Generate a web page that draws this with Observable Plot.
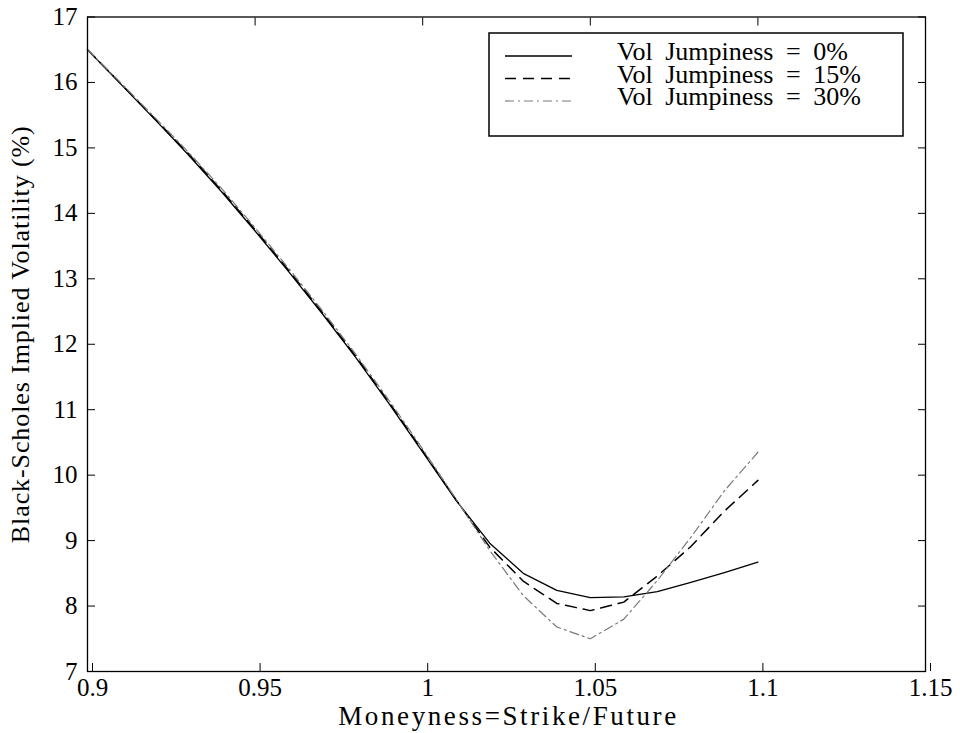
<!DOCTYPE html>
<html>
<head>
<meta charset="utf-8">
<script src="https://cdn.jsdelivr.net/npm/d3@7"></script>
<script src="https://cdn.jsdelivr.net/npm/@observablehq/plot@0.6"></script>
<style>
  body { margin: 0; background: #fff; }
  #wrap { position: relative; width: 960px; height: 733px; }
  #wrap svg text { font-family: "Liberation Serif", "Times New Roman", serif; }
  #legend { position: absolute; left: 0; top: 0; }
</style>
</head>
<body>
<div id="wrap"></div>
<script>
// ---- data ----
const moneyness = [0.90, 0.91, 0.92, 0.93, 0.94, 0.95, 0.96, 0.97, 0.98, 0.99, 1.00,
                   1.01, 1.02, 1.03, 1.04, 1.05, 1.06, 1.07, 1.08, 1.09, 1.10];
const vol0  = [16.50, 15.97, 15.44, 14.90, 14.33, 13.73, 13.11, 12.47, 11.80, 11.09, 10.35,
               9.61, 8.96, 8.50, 8.24, 8.13, 8.14, 8.22, 8.36, 8.51, 8.67];
const vol15 = [16.50, 15.98, 15.45, 14.92, 14.35, 13.75, 13.13, 12.49, 11.82, 11.11, 10.37,
               9.62, 8.90, 8.38, 8.04, 7.93, 8.06, 8.46, 8.91, 9.45, 9.92];
const vol30 = [16.50, 15.99, 15.47, 14.94, 14.38, 13.78, 13.16, 12.52, 11.85, 11.14, 10.40,
               9.63, 8.85, 8.16, 7.68, 7.50, 7.80, 8.39, 9.05, 9.76, 10.35];

const seriesLabels = ["Vol Jumpiness = 0%", "Vol Jumpiness = 15%", "Vol Jumpiness = 30%"];
const xTicks = [0.9, 0.95, 1.0, 1.05, 1.1, 1.15];
const xTickLabels = ["0.9", "0.95", "1", "1.05", "1.1", "1.15"];
const yTicks = [7, 8, 9, 10, 11, 12, 13, 14, 15, 16, 17];
const yTickLabels = ["7", "8", "9", "10", "11", "12", "13", "14", "15", "16", "17"];
const xTitle = "Moneyness=Strike/Future";
const yTitle = "Black-Scholes Implied Volatility (%)";

// ---- styles ----
const seriesStyles = [
  {stroke: "#000", strokeWidth: 1.3, strokeDasharray: null},
  {stroke: "#000", strokeWidth: 1.5, strokeDasharray: "11,7"},
  {stroke: "#7a7a7a", strokeWidth: 1.2, strokeDasharray: "9,4,2,4"}
];
const allVols = [vol0, vol15, vol30];
const rows = allVols.map(vs => moneyness.map((m, i) => ({m, v: vs[i]})));

const FONT = '"Liberation Serif", "Times New Roman", serif';

const plot = Plot.plot({
  width: 960,
  height: 733,
  marginLeft: 87,
  marginRight: 35,
  marginTop: 16.5,
  marginBottom: 62,
  style: {fontFamily: FONT, fontSize: "25px", color: "#000", background: "#fff", overflow: "visible"},
  x: {domain: [0.9, 1.15]},
  y: {domain: [7, 17]},
  marks: [
    ...rows.map((r, k) => Plot.line(r, {x: "m", y: "v", ...seriesStyles[k]})),
    Plot.frame({stroke: "#000", strokeWidth: 1.3}),
    Plot.axisX(xTicks, {anchor: "bottom", tickSize: -8, tickPadding: 15, tickFormat: (d, i) => xTickLabels[i], dx: 5, label: null}),
    Plot.axisX(xTicks, {anchor: "top", tickSize: -8, tickFormat: () => "", label: null}),
    Plot.axisY(yTicks, {anchor: "left", tickSize: -8, tickPadding: 18, tickFormat: (d, i) => yTickLabels[i], label: null}),
    Plot.axisY(yTicks, {anchor: "right", tickSize: -8, tickFormat: () => "", label: null}),
    Plot.text([xTitle], {frameAnchor: "bottom", dy: 45, dx: 2, fontSize: 27, lineAnchor: "middle", textAnchor: "middle"}),
    Plot.text([yTitle], {frameAnchor: "left", dx: -67, dy: -10, rotate: -90, fontSize: 26, lineAnchor: "middle", textAnchor: "middle"})
  ]
});

// widen the title texts a little to match the reference typeface metrics
d3.select(plot).selectAll("text").filter(function() { return this.textContent === xTitle; })
  .style("letter-spacing", "2.6px");
d3.select(plot).selectAll("text").filter(function() { return this.textContent === yTitle; })
  .style("letter-spacing", "0.9px");

const wrap = document.getElementById("wrap");
wrap.appendChild(plot);

// ---- legend overlay ----
const lg = d3.select(wrap).append("svg").attr("id", "legend")
  .attr("width", 960).attr("height", 733);
lg.append("rect").attr("x", 489).attr("y", 33).attr("width", 414).attr("height", 103)
  .attr("fill", "#fff").attr("stroke", "#000").attr("stroke-width", 1.5);
const rowBase = [60, 82.5, 105];
seriesLabels.forEach((lab, k) => {
  const st = seriesStyles[k];
  lg.append("line").attr("x1", 505).attr("x2", 572)
    .attr("y1", rowBase[k] - 4).attr("y2", rowBase[k] - 4)
    .attr("stroke", st.stroke).attr("stroke-width", st.strokeWidth)
    .attr("stroke-dasharray", st.strokeDasharray);
  lg.append("text").attr("x", 617).attr("y", rowBase[k])
    .attr("font-size", 26)
    .style("word-spacing", "6px")
    .text(lab);
});
</script>
</body>
</html>
